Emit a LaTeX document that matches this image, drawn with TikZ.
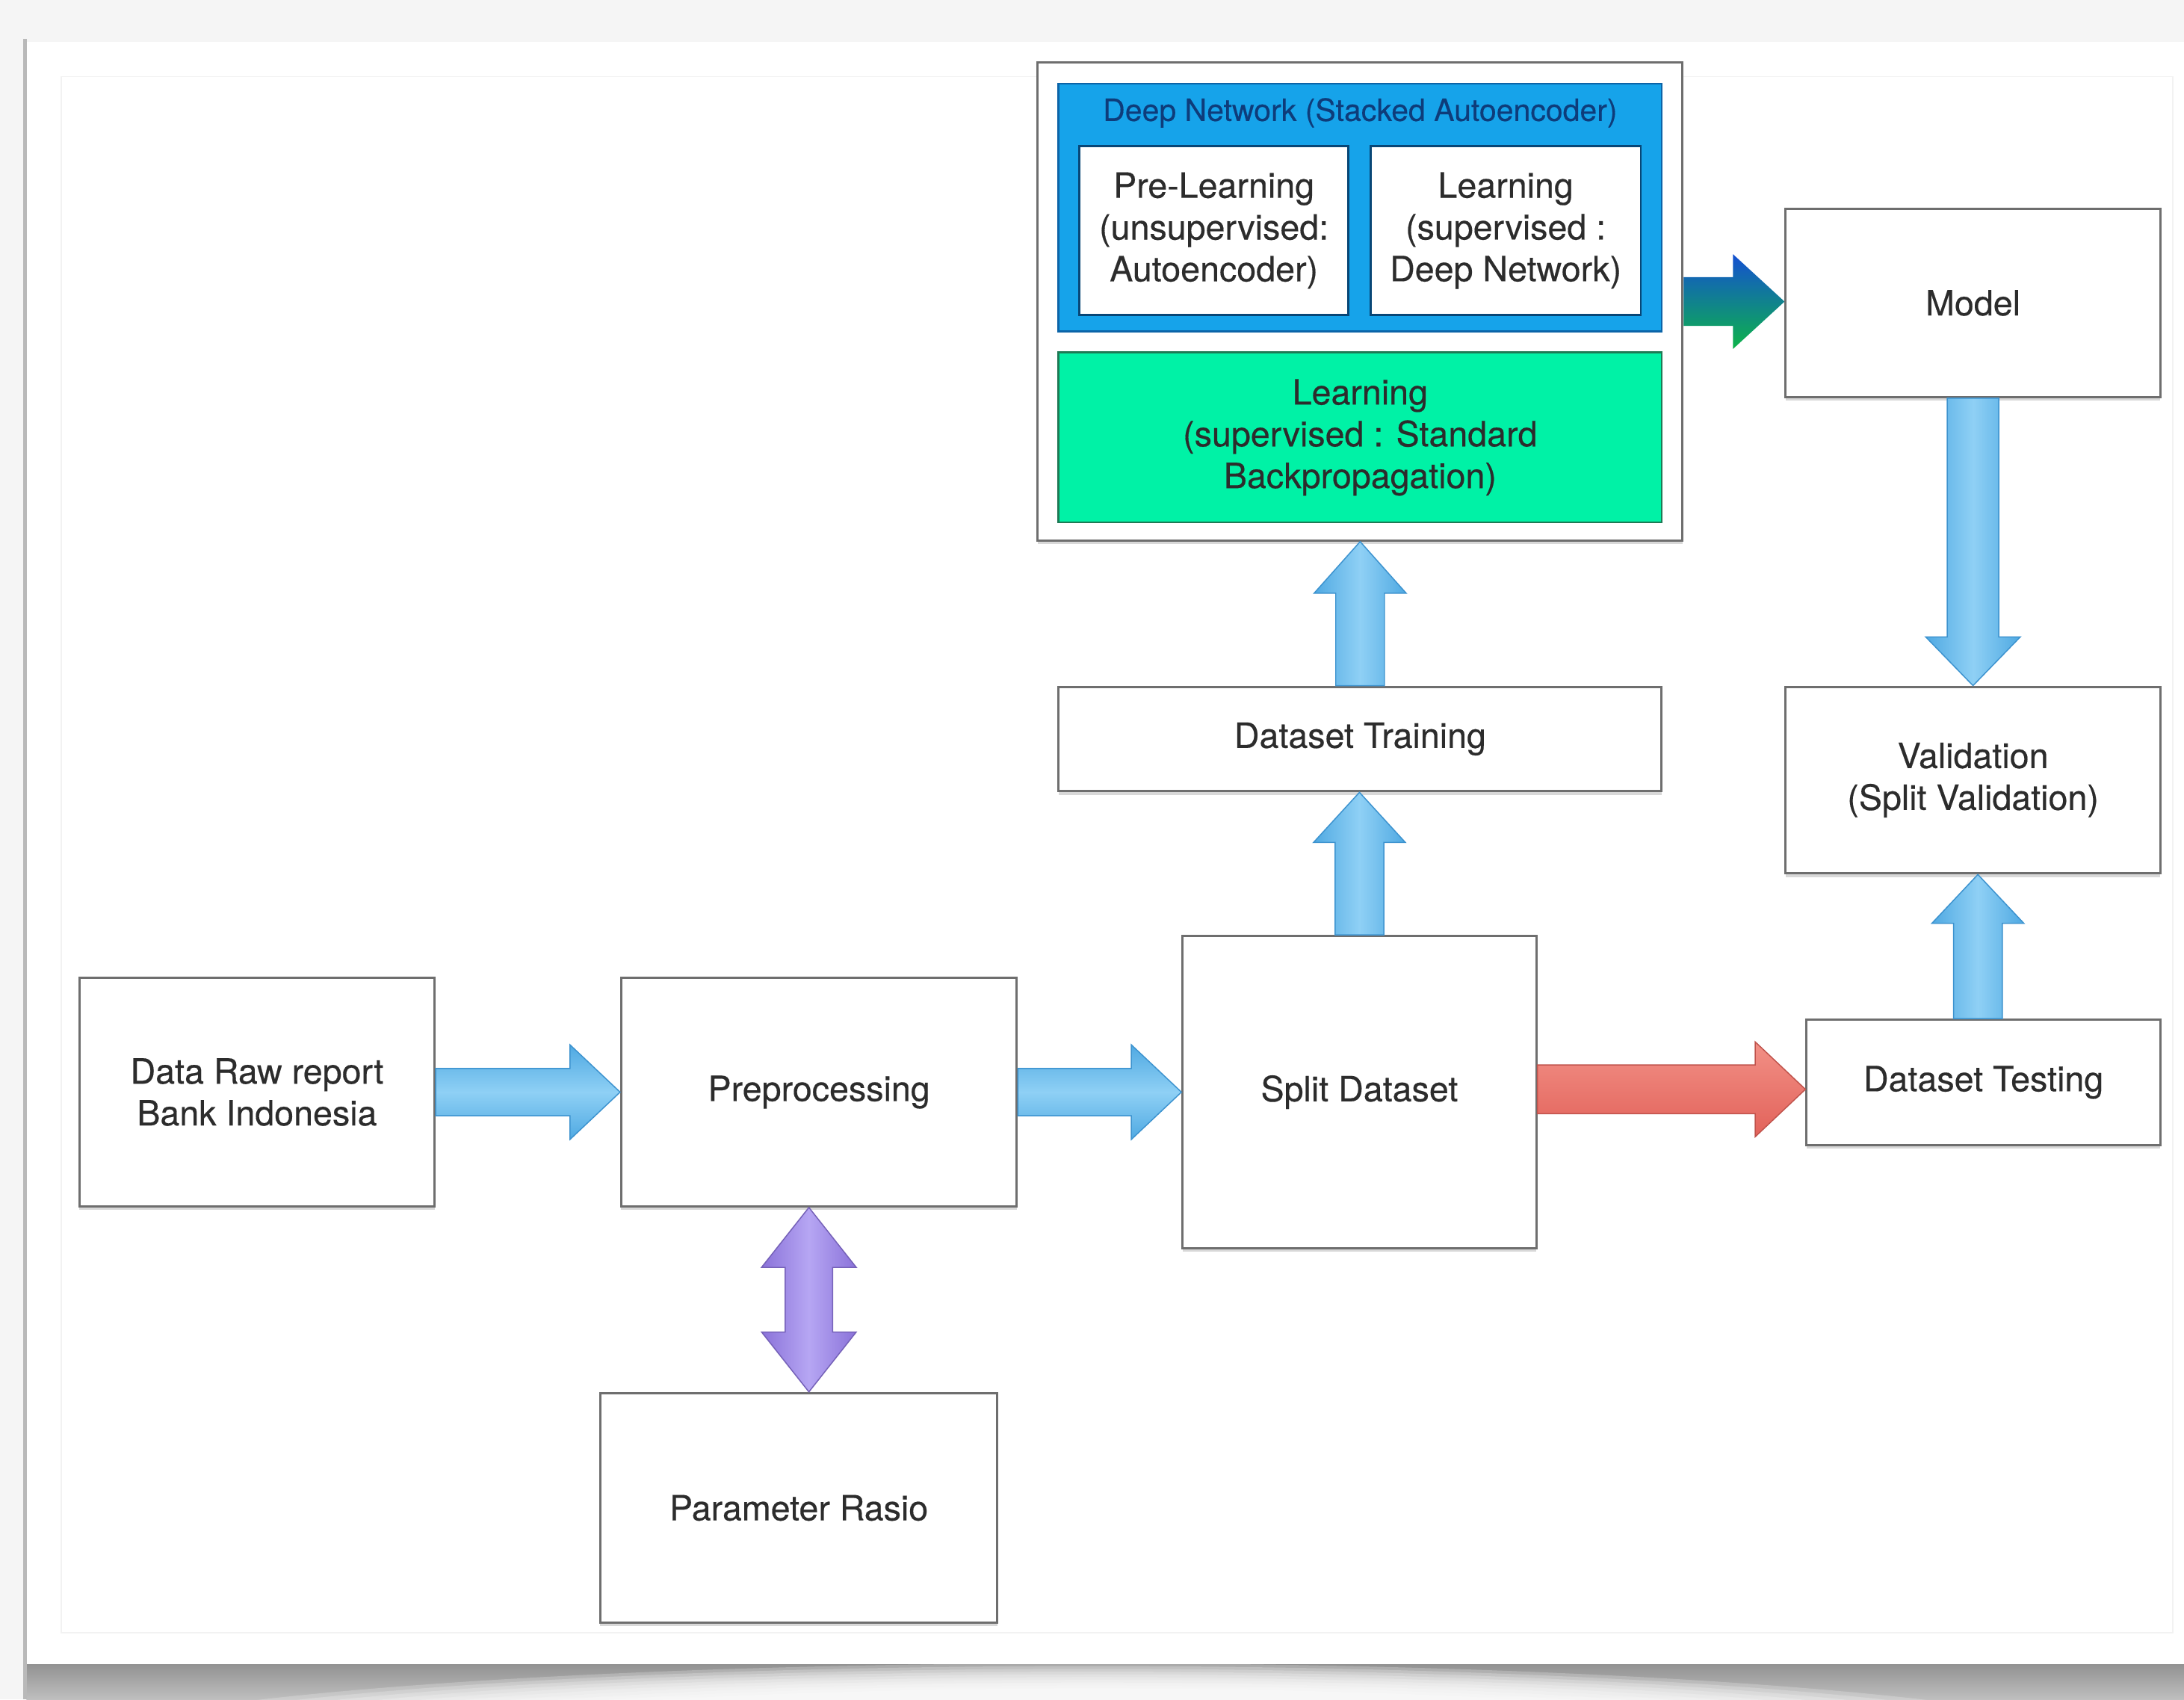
\documentclass[tikz,border=0pt]{standalone}
\usepackage{fontspec}
\setmainfont{TeX Gyre Heros}[FakeBold=0.35]
\usetikzlibrary{calc,shadows}

\definecolor{ink}{HTML}{2C2C2C}
\definecolor{boxline}{HTML}{6E6E6E}
\definecolor{pagebg}{HTML}{F5F5F5}
\definecolor{skyA}{HTML}{4FA9E2}
\definecolor{skyB}{HTML}{8FD0F5}
\definecolor{skyEdge}{HTML}{3D93CF}
\definecolor{dnfill}{HTML}{16A3EA}
\definecolor{dnline}{HTML}{0C64A8}
\definecolor{dntext}{HTML}{0E3C7A}
\definecolor{bpfill}{HTML}{00F2A6}
\definecolor{bpline}{HTML}{1E7A55}
\definecolor{redA}{HTML}{E2625A}
\definecolor{redB}{HTML}{F29086}
\definecolor{purA}{HTML}{8A72D9}
\definecolor{purB}{HTML}{B6A6F3}
\definecolor{gBlue}{HTML}{1450D2}
\definecolor{gGreen}{HTML}{0DB449}

% block arrow pointing right: style, from, to, shaft half width, head half width, head length
\newcommand\rightblock[6]{%
  \path[#1] let \p1=(#2), \p2=(#3) in
    (\x1,\y1+#4) -- (\x2-#6,\y1+#4) -- (\x2-#6,\y1+#5) -- (\x2,\y1)
    -- (\x2-#6,\y1-#5) -- (\x2-#6,\y1-#4) -- (\x1,\y1-#4) -- cycle;}
% block arrow pointing up
\newcommand\upblock[6]{%
  \path[#1] let \p1=(#2), \p2=(#3) in
    (\x1-#4,\y1) -- (\x1-#4,\y2-#6) -- (\x1-#5,\y2-#6) -- (\x1,\y2)
    -- (\x1+#5,\y2-#6) -- (\x1+#4,\y2-#6) -- (\x1+#4,\y1) -- cycle;}
% block arrow pointing down
\newcommand\downblock[6]{%
  \path[#1] let \p1=(#2), \p2=(#3) in
    (\x1-#4,\y1) -- (\x1-#4,\y2+#6) -- (\x1-#5,\y2+#6) -- (\x1,\y2)
    -- (\x1+#5,\y2+#6) -- (\x1+#4,\y2+#6) -- (\x1+#4,\y1) -- cycle;}
% vertical double-headed block arrow
\newcommand\bothblock[6]{%
  \path[#1] let \p1=(#2), \p2=(#3) in
    (\x1,\y1) -- (\x1+#5,\y1-#6) -- (\x1+#4,\y1-#6) -- (\x1+#4,\y2+#6)
    -- (\x1+#5,\y2+#6) -- (\x1,\y2) -- (\x1-#5,\y2+#6) -- (\x1-#4,\y2+#6)
    -- (\x1-#4,\y1-#6) -- (\x1-#5,\y1-#6) -- cycle;}

\begin{document}
\begin{tikzpicture}[x=1pt, y=-1pt,
  font=\fontsize{25}{30}\selectfont,
  box/.style={draw=boxline, line width=1.6pt, fill=white, text=ink,
    align=center, inner sep=0pt,
    drop shadow={shadow xshift=0pt, shadow yshift=-2.5pt, opacity=.3}},
  inbox/.style={draw=dnline!70!black, line width=1.4pt, fill=white, text=ink,
    align=center, inner sep=0pt},
  skyh/.style={top color=skyA, bottom color=skyA, middle color=skyB,
    draw=skyEdge, line width=.8pt},
  skyv/.style={left color=skyA, right color=skyA, middle color=skyB,
    draw=skyEdge, line width=.8pt},
  redarrow/.style={top color=redB, bottom color=redA, draw=redA!85!black,
    line width=.8pt},
  gradarrow/.style={top color=gBlue, bottom color=gGreen},
  purarrow/.style={left color=purA, right color=purA, middle color=purB,
    draw=purA!85!black, line width=.8pt}]

\useasboundingbox (0,0) rectangle (1568,1220);

% sheet of paper with its curled shadow
\fill[pagebg] (0,0) rectangle (1568,1220);
\fill[white] (19,30) rectangle (1568,1197);
\draw[gray!10, line width=1pt] (44,55) rectangle (1560,1172);
\begin{scope}
  \clip (19,1195) rectangle (1568,1220);
  \shade[top color=gray!85, bottom color=gray!50] (19,1195) rectangle (1568,1220);
  \foreach \i in {0,...,9}
    \fill[white, opacity=.22] (784,1262) ellipse [x radius={560+\i*22}, y radius={50+\i*2}];
\end{scope}
\draw[gray!55, line width=3pt] (18,28) -- (18,1220);

% main flow
\node[box, minimum width=255pt, minimum height=164pt] (raw) at (184.5,784)
  {Data Raw report\\Bank Indonesia};
\node[box, minimum width=284pt, minimum height=164pt] (prep) at (588,784)
  {Preprocessing};
\node[box, minimum width=285pt, minimum height=165pt] (param) at (573.5,1082.5)
  {Parameter Rasio};
\node[box, minimum width=254pt, minimum height=224pt] (split) at (976,784)
  {Split Dataset};
\node[box, minimum width=433pt, minimum height=75pt] (train) at (976.5,530.5)
  {Dataset Training};
\node[box, minimum width=269pt, minimum height=135pt] (model) at (1416.5,217.5)
  {Model};
\node[box, minimum width=269pt, minimum height=134pt] (valid) at (1416.5,560)
  {Validation\\(Split Validation)};
\node[box, minimum width=254pt, minimum height=90pt] (test) at (1424,777)
  {Dataset Testing};

% learning block
\node[box, minimum width=463pt, minimum height=343pt] (outer) at (976.5,216.5) {};
\node[draw=dnline, line width=1.4pt, fill=dnfill, inner sep=0pt,
  minimum width=433pt, minimum height=178pt] (dn) at (976.5,149) {};
\node[text=dntext, font=\fontsize{22}{26}\selectfont, inner sep=0pt] (dntitle)
  at (976.5,81) {Deep Network (Stacked Autoencoder)};
\node[inbox, minimum width=193pt, minimum height=121pt] (prel) at (871.5,165.5)
  {Pre-Learning\\(unsupervised:\\Autoencoder)};
\node[inbox, minimum width=194pt, minimum height=121pt] (lrn) at (1081,165.5)
  {Learning\\(supervised :\\Deep Network)};
\node[draw=bpline, line width=1.4pt, fill=bpfill, text=ink, align=center,
  inner sep=0pt, minimum width=433pt, minimum height=122pt] (bp) at (976.5,314)
  {Learning\\(supervised : Standard\\Backpropagation)};

% connectors
\rightblock{skyh}{raw.east}{prep.west}{17pt}{34pt}{36pt}
\rightblock{skyh}{prep.east}{split.west}{17pt}{34pt}{36pt}
\rightblock{redarrow}{$(split.east)+(0,-2)$}{test.west}{17.5pt}{34pt}{36pt}
\rightblock{gradarrow}{outer.east}{model.west}{17.5pt}{34pt}{37pt}
\upblock{skyv}{split.north}{train.south}{17.5pt}{33pt}{36pt}
\upblock{skyv}{train.north}{outer.south}{17.5pt}{33pt}{37pt}
\upblock{skyv}{$(test.north)+(-4,0)$}{valid.south}{17.5pt}{33pt}{35pt}
\downblock{skyv}{model.south}{valid.north}{18.5pt}{34pt}{35pt}
\coordinate (ptop) at ($(prep.south)!0.5!(param.north)$);
\bothblock{purarrow}{ptop |- prep.south}{ptop |- param.north}{17pt}{34pt}{43pt}

\end{tikzpicture}
\end{document}
